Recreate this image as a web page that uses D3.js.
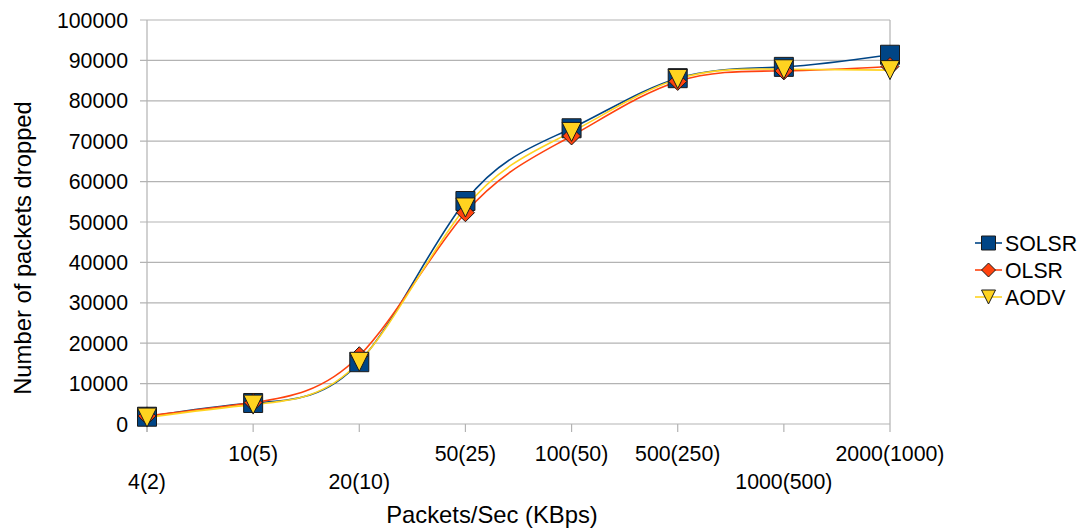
<!DOCTYPE html>
<html>
<head>
<meta charset="utf-8">
<script src="https://cdn.jsdelivr.net/npm/d3@7"></script>
<style>
  html, body { margin: 0; padding: 0; background: #fff; }
  svg { display: block; font-family: "Liberation Sans", Arial, sans-serif; }
</style>
</head>
<body>
<svg id="chart" width="1082" height="529"></svg>
<script>
// Packet rate categories (packets/sec with KBps in brackets)
const categories = ["4(2)", "10(5)", "20(10)", "50(25)", "100(50)", "500(250)", "1000(500)", "2000(1000)"];
// Which label row each category label sits on (0 = upper, 1 = lower)
const labelRows = [1, 0, 1, 0, 0, 0, 1, 0];

// Packets dropped per protocol
const solsr = [1800, 5200, 15300, 55200, 73200, 85600, 88400, 91400];
const olsr  = [2000, 5300, 16900, 52300, 71300, 84800, 87400, 88500];
const aodv  = [1600, 4800, 15400, 53600, 72300, 85400, 87800, 87600];

const yTicks = [0, 10000, 20000, 30000, 40000, 50000, 60000, 70000, 80000, 90000, 100000];

const seriesNames = ["SOLSR", "OLSR", "AODV"];
const seriesValues = [solsr, olsr, aodv];
const colors = ["#004586", "#ff420e", "#ffd320"];
const symbols = ["square", "diamond", "triangle"];

const svg = d3.select("#chart");
const plot = { left: 147, right: 890, top: 20, bottom: 424 };
const gridColor = "#b3b3b3";
const labelSize = 21.3;
const titleSize = 23.8;

const x = d3.scalePoint().domain(categories).range([plot.left, plot.right]);
const y = d3.scaleLinear().domain([0, 100000]).range([plot.bottom, plot.top]);

// Horizontal grid lines with short outer ticks
svg.append("g")
  .selectAll("line")
  .data(yTicks)
  .join("line")
  .attr("x1", plot.left - 7).attr("x2", plot.right)
  .attr("y1", d => y(d)).attr("y2", d => y(d))
  .attr("stroke", gridColor).attr("stroke-width", 1.2);

// Frame: left axis, right border
[plot.left, plot.right].forEach(px => {
  svg.append("line").attr("x1", px).attr("x2", px)
    .attr("y1", plot.top).attr("y2", px === plot.left ? plot.bottom + 8 : plot.bottom)
    .attr("stroke", gridColor).attr("stroke-width", 1.2);
});

// Category ticks below the x axis
svg.append("g")
  .selectAll("line")
  .data(categories)
  .join("line")
  .attr("x1", d => x(d)).attr("x2", d => x(d))
  .attr("y1", plot.bottom).attr("y2", plot.bottom + 8)
  .attr("stroke", gridColor).attr("stroke-width", 1.2);

// Y tick labels
svg.append("g")
  .selectAll("text")
  .data(yTicks)
  .join("text")
  .attr("x", plot.left - 19)
  .attr("y", d => y(d))
  .attr("dy", "0.36em")
  .attr("text-anchor", "end")
  .attr("font-size", labelSize)
  .attr("fill", "#000")
  .text(d => d);

// X tick labels on two staggered rows
svg.append("g")
  .selectAll("text")
  .data(categories)
  .join("text")
  .attr("x", d => x(d))
  .attr("y", (d, i) => labelRows[i] ? 481 : 453)
  .attr("dy", "0.36em")
  .attr("text-anchor", "middle")
  .attr("font-size", labelSize)
  .attr("fill", "#000")
  .text(d => d);

// Axis titles
svg.append("text")
  .attr("transform", `translate(22,248) rotate(-90)`)
  .attr("dy", "0.36em")
  .attr("text-anchor", "middle")
  .attr("font-size", titleSize)
  .attr("fill", "#000")
  .text("Number of packets dropped");

svg.append("text")
  .attr("x", 492).attr("y", 514)
  .attr("dy", "0.36em")
  .attr("text-anchor", "middle")
  .attr("font-size", titleSize)
  .attr("fill", "#000")
  .text("Packets/Sec (KBps)");

// Marker shapes
function markerPath(kind, s) {
  const h = s / 2;
  if (kind === "square") return `M${-h},${-h}H${h}V${h}H${-h}Z`;
  if (kind === "diamond") return `M0,${-h}L${h},0L0,${h}L${-h},0Z`;
  return `M${-h},${-h}H${h}L0,${h}Z`;
}
const markerSize = [19, 18, 19];

const line = d3.line()
  .x((d, i) => x(categories[i]))
  .y(d => y(d))
  .curve(d3.curveNatural);

// Series lines
seriesValues.forEach((vals, k) => {
  svg.append("path")
    .datum(vals)
    .attr("d", line)
    .attr("fill", "none")
    .attr("stroke", colors[k])
    .attr("stroke-width", 1.6);
});

// Series markers
seriesValues.forEach((vals, k) => {
  svg.append("g")
    .selectAll("path")
    .data(vals)
    .join("path")
    .attr("transform", (d, i) => `translate(${x(categories[i])},${y(d)})`)
    .attr("d", markerPath(symbols[k], markerSize[k]))
    .attr("fill", colors[k])
    .attr("stroke", "#1a1a1a")
    .attr("stroke-width", 1);
});

// Legend
const legend = svg.append("g");
seriesNames.forEach((name, k) => {
  const cy = 243 + k * 27;
  legend.append("line")
    .attr("x1", 975).attr("x2", 1002).attr("y1", cy).attr("y2", cy)
    .attr("stroke", colors[k]).attr("stroke-width", 1.6);
  legend.append("path")
    .attr("transform", `translate(988.5,${cy})`)
    .attr("d", markerPath(symbols[k], 14))
    .attr("fill", colors[k])
    .attr("stroke", "#1a1a1a")
    .attr("stroke-width", 1);
  legend.append("text")
    .attr("x", 1005).attr("y", cy)
    .attr("dy", "0.36em")
    .attr("font-size", labelSize)
    .attr("fill", "#000")
    .text(name);
});
</script>
</body>
</html>
